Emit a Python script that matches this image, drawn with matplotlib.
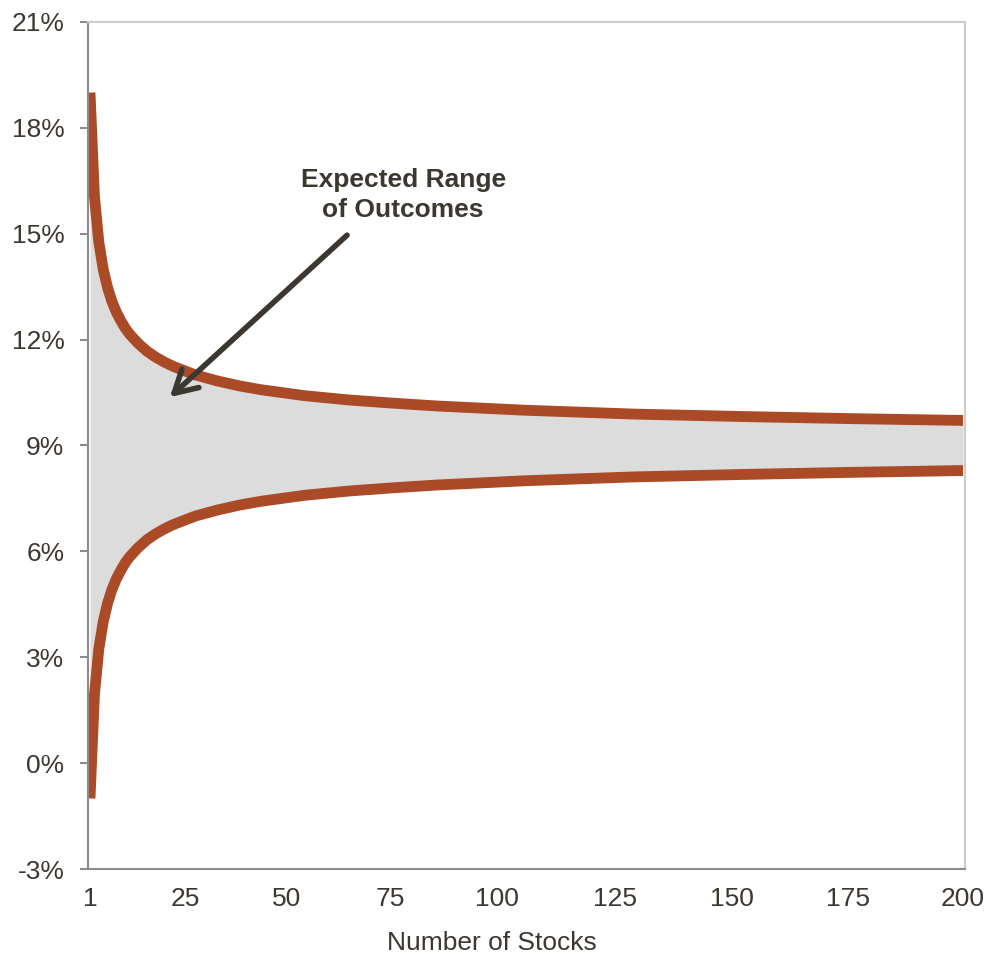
import matplotlib.pyplot as plt
from matplotlib.ticker import FuncFormatter

plt.rcParams['font.family'] = ['Liberation Sans', 'DejaVu Sans']

# Data (return range in %, by number of stocks)
n_stocks = [1, 2, 3, 4, 5, 6, 7, 8, 9, 10, 12, 14, 16, 18, 20, 25, 30, 35, 40,
            50, 60, 70, 80, 100, 125, 150, 175, 200]
upper = [19.00, 16.07, 14.77, 14.00, 13.47, 13.08, 12.78, 12.54, 12.33, 12.16,
         11.89, 11.67, 11.50, 11.36, 11.24, 11.00, 10.83, 10.69, 10.58, 10.41,
         10.29, 10.20, 10.12, 10.00, 9.89, 9.82, 9.76, 9.71]
lower = [-1.00, 1.93, 3.23, 4.00, 4.53, 4.92, 5.22, 5.46, 5.67, 5.84, 6.11,
         6.33, 6.50, 6.64, 6.76, 7.00, 7.17, 7.31, 7.42, 7.59, 7.71, 7.80, 7.88,
         8.00, 8.11, 8.18, 8.24, 8.29]

# x tick labels (placed where they sit in the original)
xtick_labels = ['1', '25', '50', '75', '100', '125', '150', '175', '200']
xtick_pos = [1, 22.7, 45.9, 69.4, 93.8, 120.7, 147.3, 173.8, 200]
yticks = [-3, 0, 3, 6, 9, 12, 15, 18, 21]

line_col = '#AA4A26'
text_col = '#3D3731'

fig = plt.figure(figsize=(9.87, 9.56), dpi=100)
ax = fig.add_axes([0.0892, 0.091, 0.8885, 0.886])

ax.fill_between(n_stocks, lower, upper, color='#DCDCDC', lw=0)
ax.plot(n_stocks, upper, color=line_col, lw=7.8, solid_capstyle='butt', solid_joinstyle='round')
ax.plot(n_stocks, lower, color=line_col, lw=7.8, solid_capstyle='butt', solid_joinstyle='round')

ax.set_xlim(0.55, 200.45)
ax.set_ylim(-3, 21)
ax.set_yticks(yticks)
ax.yaxis.set_major_formatter(FuncFormatter(lambda v, p: '%d%%' % v))
ax.set_xticks(xtick_pos)
ax.set_xticklabels(xtick_labels)

ax.tick_params(axis='y', length=6, width=1.5, color='#8C8C8C', pad=11,
               labelsize=19, labelcolor=text_col)
ax.tick_params(axis='x', length=0, pad=13, labelsize=19, labelcolor=text_col)

for s in ['left', 'bottom']:
    ax.spines[s].set_color('#8C8C8C')
    ax.spines[s].set_linewidth(1.5)
for s in ['top', 'right']:
    ax.spines[s].set_color('#CCCCCC')
    ax.spines[s].set_linewidth(1.5)

ax.set_xlabel('Number of Stocks', fontsize=19, color=text_col)
ax.xaxis.set_label_coords(0.461, -0.073)

ax.text(72.4, 16.1, 'Expected Range\nof Outcomes', ha='center', va='center',
        fontsize=19, fontweight='bold', color=text_col, linespacing=1.3)
ax.annotate('', xy=(19.2, 10.37), xytext=(59.6, 14.96),
            arrowprops=dict(arrowstyle='->, head_length=0.8, head_width=0.45',
                            lw=4.0, color=text_col, shrinkA=0, shrinkB=0,
                            mutation_scale=20))

fig.savefig('out.png', dpi=100)
